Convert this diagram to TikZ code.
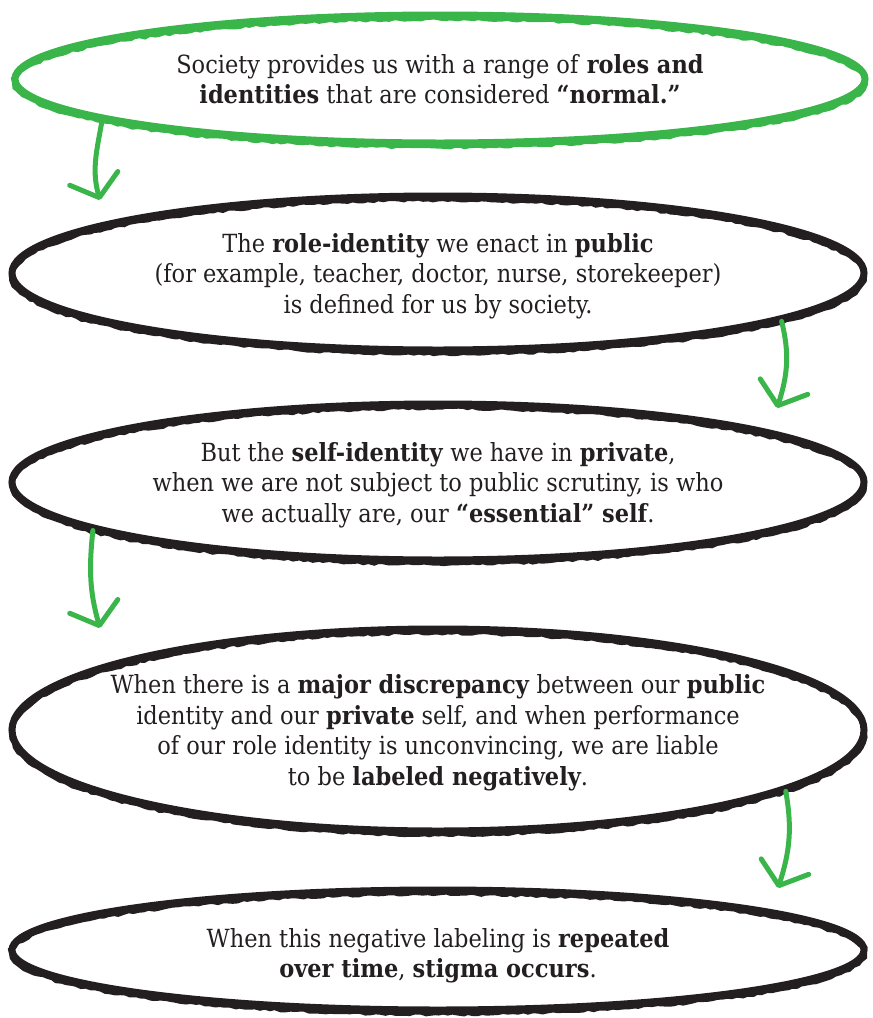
\documentclass[tikz,border=0pt]{standalone}
\usepackage{fontspec}
\setmainfont{DejaVu Serif Condensed}
\usetikzlibrary{shapes.geometric,arrows.meta,decorations.pathmorphing}
\definecolor{ink}{RGB}{35,31,32}
\definecolor{leafgreen}{RGB}{57,181,74}
\tikzset{
  bubble/.style={ellipse,draw=#1,line width=7pt,inner sep=0pt,
    postaction={draw=#1,line width=5pt,transform canvas={yshift=-3pt},
      decorate,decoration={random steps,segment length=5pt,amplitude=1pt}}},
  bubble/.default=ink,
  txt/.style={align=center,text=ink,font=\fontsize{25}{30.5}\selectfont},
  flow/.style={draw=leafgreen,line width=5pt,line cap=round,
    -{Straight Barb[length=20pt,width=50pt,line width=5pt,round]}}
}

\begin{document}
\begin{tikzpicture}[x=1pt,y=1pt]
\pgfmathsetseed{7}
\useasboundingbox (0,0) rectangle (873,-1018);

\node[bubble=leafgreen,minimum width=850pt,minimum height=128pt] (soc) at (440,-79) {};
\node[bubble,minimum width=852pt,minimum height=154pt] (role) at (438,-273) {};
\node[bubble,minimum width=852pt,minimum height=156pt] (self) at (438,-482) {};
\node[bubble,minimum width=852pt,minimum height=202pt] (gap) at (438,-730) {};
\node[bubble,minimum width=852pt,minimum height=120pt] (stig) at (438,-950) {};

\node[txt] (soc-t) at (soc) {Society provides us with a range of \textbf{roles and}\\
  \textbf{identities} that are considered \textbf{``normal.''}};
\node[txt] (role-t) at ([yshift=-3pt]role.center) {The \textbf{role-identity} we enact in \textbf{public}\\
  (for example, teacher, doctor, nurse, storekeeper)\\
  is defined for us by society.};
\node[txt] (self-t) at ([yshift=-3pt]self.center) {But the \textbf{self-identity} we have in \textbf{private},\\
  when we are not subject to public scrutiny, is who\\
  we actually are, our \textbf{``essential'' self}.};
\node[txt] (gap-t) at ([yshift=-3pt]gap.center) {When there is a \textbf{major discrepancy} between our \textbf{public}\\
  identity and our \textbf{private} self, and when performance\\
  of our role identity is unconvincing, we are liable\\
  to be \textbf{labeled negatively}.};
\node[txt] (stig-t) at ([yshift=-6pt]stig.center) {When this negative labeling is \textbf{repeated}\\
  \textbf{over time}, \textbf{stigma occurs}.};

% arrow tips float just above the next ellipse
\coordinate (t1) at (100,-200);
\coordinate (t2) at (777,-408);
\coordinate (t3) at (100,-628);
\coordinate (t4) at (778,-888);

\draw[flow] (soc.187) to[out=-100,in=106] (t1);
\draw[flow] (role.-8) to[out=-76,in=72] (t2);
\draw[flow] (self.188) to[out=-96,in=106] (t3);
\draw[flow] (gap.-10) to[out=-80,in=72] (t4);
\end{tikzpicture}
\end{document}
